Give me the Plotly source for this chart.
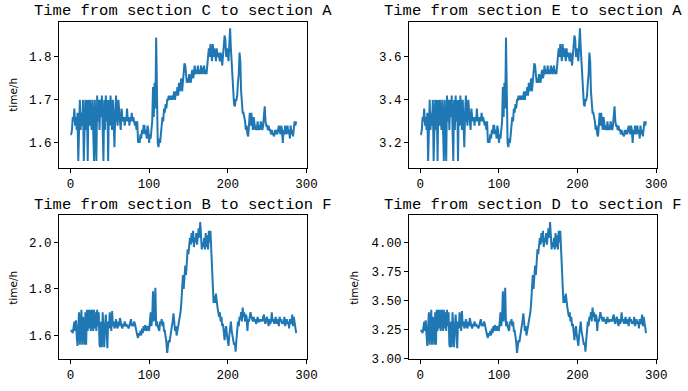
import plotly.graph_objects as go

# ---- data (5-minute intervals over one day, index 0..287) ----
c_to_a = [
    1.62, 1.62, 1.63, 1.66, 1.65, 1.68, 1.64, 1.66, 1.63, 1.67,
    1.558, 1.65, 1.70, 1.63, 1.67, 1.64, 1.70, 1.558, 1.66, 1.70,
    1.63, 1.70, 1.558, 1.70, 1.64, 1.70, 1.66, 1.63, 1.70, 1.64,
    1.558, 1.70, 1.63, 1.558, 1.71, 1.65, 1.70, 1.63, 1.70, 1.66,
    1.71, 1.64, 1.558, 1.70, 1.63, 1.71, 1.65, 1.70, 1.558, 1.70,
    1.64, 1.71, 1.66, 1.63, 1.70, 1.64, 1.59, 1.67, 1.71, 1.66,
    1.64, 1.70, 1.66, 1.65, 1.63, 1.68, 1.66, 1.65, 1.66, 1.64,
    1.66, 1.65, 1.68, 1.65, 1.66, 1.64, 1.66, 1.65, 1.67, 1.65,
    1.66, 1.65, 1.64, 1.65, 1.63, 1.65, 1.60, 1.61, 1.60, 1.62,
    1.61, 1.63, 1.62, 1.64, 1.64, 1.62, 1.63, 1.61, 1.64, 1.63,
    1.60, 1.62, 1.61, 1.63, 1.65, 1.73, 1.66, 1.74, 1.68, 1.845,
    1.66, 1.60, 1.59, 1.61, 1.60, 1.63, 1.64, 1.66, 1.65, 1.68,
    1.67, 1.69, 1.68, 1.70, 1.70, 1.71, 1.70, 1.71, 1.70, 1.71,
    1.70, 1.71, 1.72, 1.70, 1.72, 1.71, 1.73, 1.71, 1.74, 1.72,
    1.74, 1.75, 1.72, 1.74, 1.76, 1.785, 1.78, 1.76, 1.74, 1.75,
    1.74, 1.76, 1.75, 1.74, 1.76, 1.77, 1.75, 1.76, 1.78, 1.76,
    1.77, 1.76, 1.78, 1.76, 1.77, 1.76, 1.78, 1.77, 1.76, 1.77,
    1.78, 1.76, 1.77, 1.76, 1.78, 1.80, 1.82, 1.80, 1.83, 1.81,
    1.79, 1.83, 1.80, 1.82, 1.81, 1.79, 1.82, 1.80, 1.81, 1.80,
    1.79, 1.81, 1.80, 1.78, 1.80, 1.83, 1.85, 1.84, 1.80, 1.82,
    1.80, 1.79, 1.83, 1.867, 1.82, 1.78, 1.76, 1.72, 1.69, 1.685,
    1.70, 1.70, 1.71, 1.74, 1.76, 1.81, 1.79, 1.72, 1.68, 1.67,
    1.67, 1.66, 1.65, 1.63, 1.64, 1.62, 1.615, 1.64, 1.67, 1.64,
    1.67, 1.65, 1.63, 1.66, 1.64, 1.63, 1.64, 1.63, 1.65, 1.63,
    1.64, 1.63, 1.65, 1.64, 1.63, 1.64, 1.66, 1.685, 1.65, 1.64,
    1.64, 1.63, 1.64, 1.63, 1.63, 1.62, 1.63, 1.62, 1.62, 1.615,
    1.63, 1.62, 1.63, 1.62, 1.63, 1.64, 1.63, 1.62, 1.64, 1.63,
    1.60, 1.63, 1.62, 1.64, 1.62, 1.63, 1.64, 1.62, 1.63, 1.61,
    1.64, 1.62, 1.63, 1.615, 1.64, 1.65, 1.64, 1.65,
]

e_to_a = [
    3.24, 3.24, 3.26, 3.32, 3.30, 3.36, 3.28, 3.32, 3.26, 3.34,
    3.116, 3.30, 3.40, 3.26, 3.34, 3.28, 3.40, 3.116, 3.32, 3.40,
    3.26, 3.40, 3.116, 3.40, 3.28, 3.40, 3.32, 3.26, 3.40, 3.28,
    3.116, 3.40, 3.26, 3.116, 3.42, 3.30, 3.40, 3.26, 3.40, 3.32,
    3.42, 3.28, 3.116, 3.40, 3.26, 3.42, 3.30, 3.40, 3.116, 3.40,
    3.28, 3.42, 3.32, 3.26, 3.40, 3.28, 3.18, 3.34, 3.42, 3.32,
    3.28, 3.40, 3.32, 3.30, 3.26, 3.36, 3.32, 3.30, 3.32, 3.28,
    3.32, 3.30, 3.36, 3.30, 3.32, 3.28, 3.32, 3.30, 3.34, 3.30,
    3.32, 3.30, 3.28, 3.30, 3.26, 3.30, 3.20, 3.22, 3.20, 3.24,
    3.22, 3.26, 3.24, 3.28, 3.28, 3.24, 3.26, 3.22, 3.28, 3.26,
    3.20, 3.24, 3.22, 3.26, 3.30, 3.46, 3.32, 3.48, 3.36, 3.69,
    3.32, 3.20, 3.18, 3.22, 3.20, 3.26, 3.28, 3.32, 3.30, 3.36,
    3.34, 3.38, 3.36, 3.40, 3.40, 3.42, 3.40, 3.42, 3.40, 3.42,
    3.40, 3.42, 3.44, 3.40, 3.44, 3.42, 3.46, 3.42, 3.48, 3.44,
    3.48, 3.50, 3.44, 3.48, 3.52, 3.57, 3.56, 3.52, 3.48, 3.50,
    3.48, 3.52, 3.50, 3.48, 3.52, 3.54, 3.50, 3.52, 3.56, 3.52,
    3.54, 3.52, 3.56, 3.52, 3.54, 3.52, 3.56, 3.54, 3.52, 3.54,
    3.56, 3.52, 3.54, 3.52, 3.56, 3.60, 3.64, 3.60, 3.66, 3.62,
    3.58, 3.66, 3.60, 3.64, 3.62, 3.58, 3.64, 3.60, 3.62, 3.60,
    3.58, 3.62, 3.60, 3.56, 3.60, 3.66, 3.70, 3.68, 3.60, 3.64,
    3.60, 3.58, 3.66, 3.734, 3.64, 3.56, 3.52, 3.44, 3.38, 3.37,
    3.40, 3.40, 3.42, 3.48, 3.52, 3.62, 3.58, 3.44, 3.36, 3.34,
    3.34, 3.32, 3.30, 3.26, 3.28, 3.24, 3.23, 3.28, 3.34, 3.28,
    3.34, 3.30, 3.26, 3.32, 3.28, 3.26, 3.28, 3.26, 3.30, 3.26,
    3.28, 3.26, 3.30, 3.28, 3.26, 3.28, 3.32, 3.37, 3.30, 3.28,
    3.28, 3.26, 3.28, 3.26, 3.26, 3.24, 3.26, 3.24, 3.24, 3.23,
    3.26, 3.24, 3.26, 3.24, 3.26, 3.28, 3.26, 3.24, 3.28, 3.26,
    3.20, 3.26, 3.24, 3.28, 3.24, 3.26, 3.28, 3.24, 3.26, 3.22,
    3.28, 3.24, 3.26, 3.23, 3.28, 3.30, 3.28, 3.30,
]

b_to_f = [
    1.62, 1.62, 1.62, 1.61, 1.63, 1.66, 1.62, 1.665, 1.60, 1.555,
    1.64, 1.70, 1.56, 1.66, 1.71, 1.56, 1.68, 1.62, 1.56, 1.70,
    1.56, 1.71, 1.62, 1.71, 1.63, 1.71, 1.62, 1.70, 1.71, 1.62,
    1.71, 1.63, 1.70, 1.62, 1.71, 1.64, 1.70, 1.56, 1.55, 1.66,
    1.55, 1.70, 1.60, 1.55, 1.64, 1.69, 1.62, 1.545, 1.66, 1.63,
    1.70, 1.64, 1.62, 1.705, 1.64, 1.66, 1.63, 1.64, 1.67, 1.64,
    1.63, 1.66, 1.64, 1.675, 1.65, 1.64, 1.63, 1.65, 1.64, 1.66,
    1.64, 1.65, 1.64, 1.64, 1.63, 1.64, 1.65, 1.67, 1.64, 1.65,
    1.64, 1.66, 1.65, 1.63, 1.62, 1.60, 1.59, 1.61, 1.60, 1.62,
    1.60, 1.63, 1.61, 1.64, 1.62, 1.645, 1.63, 1.62, 1.64, 1.63,
    1.62, 1.66, 1.70, 1.64, 1.68, 1.79, 1.66, 1.70, 1.805, 1.64,
    1.66, 1.64, 1.63, 1.62, 1.66, 1.65, 1.67, 1.64, 1.66, 1.62,
    1.62, 1.60, 1.57, 1.525, 1.55, 1.58, 1.57, 1.60, 1.62, 1.64,
    1.66, 1.695, 1.66, 1.62, 1.64, 1.60, 1.62, 1.65, 1.66, 1.68,
    1.70, 1.74, 1.80, 1.86, 1.80, 1.87, 1.90, 1.86, 1.92, 1.97,
    1.95, 2.00, 2.02, 1.99, 2.04, 2.00, 2.05, 1.98, 2.02, 2.00,
    2.04, 1.99, 2.03, 2.06, 2.02, 2.0875, 2.03, 1.97, 2.00, 1.98,
    2.02, 1.97, 2.04, 1.98, 2.03, 1.97, 2.05, 2.00, 2.05, 1.95,
    1.86, 1.78, 1.74, 1.77, 1.74, 1.78, 1.73, 1.72, 1.70, 1.68,
    1.70, 1.66, 1.68, 1.64, 1.65, 1.60, 1.58, 1.62, 1.64, 1.60,
    1.58, 1.555, 1.60, 1.63, 1.66, 1.62, 1.60, 1.58, 1.56, 1.57,
    1.53, 1.58, 1.62, 1.66, 1.64, 1.68, 1.67, 1.70, 1.66, 1.72,
    1.68, 1.70, 1.66, 1.69, 1.68, 1.62, 1.67, 1.66, 1.68, 1.70,
    1.68, 1.67, 1.66, 1.68, 1.66, 1.67, 1.65, 1.66, 1.68, 1.66,
    1.66, 1.67, 1.66, 1.67, 1.66, 1.68, 1.69, 1.66, 1.65, 1.67,
    1.68, 1.66, 1.64, 1.67, 1.65, 1.66, 1.70, 1.66, 1.67, 1.65,
    1.66, 1.68, 1.65, 1.67, 1.66, 1.64, 1.68, 1.66, 1.67, 1.65,
    1.66, 1.65, 1.68, 1.64, 1.66, 1.67, 1.65, 1.66, 1.63, 1.67,
    1.65, 1.66, 1.69, 1.64, 1.68, 1.66, 1.64, 1.61,
]

d_to_f = [
    3.24, 3.24, 3.24, 3.22, 3.26, 3.32, 3.24, 3.33, 3.20, 3.11,
    3.28, 3.40, 3.12, 3.32, 3.42, 3.12, 3.36, 3.24, 3.12, 3.40,
    3.12, 3.42, 3.24, 3.42, 3.26, 3.42, 3.24, 3.40, 3.42, 3.24,
    3.42, 3.26, 3.40, 3.24, 3.42, 3.28, 3.40, 3.12, 3.10, 3.32,
    3.10, 3.40, 3.20, 3.10, 3.28, 3.38, 3.24, 3.09, 3.32, 3.26,
    3.40, 3.28, 3.24, 3.41, 3.28, 3.32, 3.26, 3.28, 3.34, 3.28,
    3.26, 3.32, 3.28, 3.35, 3.30, 3.28, 3.26, 3.30, 3.28, 3.32,
    3.28, 3.30, 3.28, 3.28, 3.26, 3.28, 3.30, 3.34, 3.28, 3.30,
    3.28, 3.32, 3.30, 3.26, 3.24, 3.20, 3.18, 3.22, 3.20, 3.24,
    3.20, 3.26, 3.22, 3.28, 3.24, 3.29, 3.26, 3.24, 3.28, 3.26,
    3.24, 3.32, 3.40, 3.28, 3.36, 3.58, 3.32, 3.40, 3.61, 3.28,
    3.32, 3.28, 3.26, 3.24, 3.32, 3.30, 3.34, 3.28, 3.32, 3.24,
    3.24, 3.20, 3.14, 3.05, 3.10, 3.16, 3.14, 3.20, 3.24, 3.28,
    3.32, 3.39, 3.32, 3.24, 3.28, 3.20, 3.24, 3.30, 3.32, 3.36,
    3.40, 3.48, 3.60, 3.72, 3.60, 3.74, 3.80, 3.72, 3.84, 3.94,
    3.90, 4.00, 4.04, 3.98, 4.08, 4.00, 4.10, 3.96, 4.04, 4.00,
    4.08, 3.98, 4.06, 4.12, 4.04, 4.175, 4.06, 3.94, 4.00, 3.96,
    4.04, 3.94, 4.08, 3.96, 4.06, 3.94, 4.10, 4.00, 4.10, 3.90,
    3.72, 3.56, 3.48, 3.54, 3.48, 3.56, 3.46, 3.44, 3.40, 3.36,
    3.40, 3.32, 3.36, 3.28, 3.30, 3.20, 3.16, 3.24, 3.28, 3.20,
    3.16, 3.11, 3.20, 3.26, 3.32, 3.24, 3.20, 3.16, 3.12, 3.14,
    3.06, 3.16, 3.24, 3.32, 3.28, 3.36, 3.34, 3.40, 3.32, 3.44,
    3.36, 3.40, 3.32, 3.38, 3.36, 3.24, 3.34, 3.32, 3.36, 3.40,
    3.36, 3.34, 3.32, 3.36, 3.32, 3.34, 3.30, 3.32, 3.36, 3.32,
    3.32, 3.34, 3.32, 3.34, 3.32, 3.36, 3.38, 3.32, 3.30, 3.34,
    3.36, 3.32, 3.28, 3.34, 3.30, 3.32, 3.40, 3.32, 3.34, 3.30,
    3.32, 3.36, 3.30, 3.34, 3.32, 3.28, 3.36, 3.32, 3.34, 3.30,
    3.32, 3.30, 3.36, 3.28, 3.32, 3.34, 3.30, 3.32, 3.26, 3.34,
    3.30, 3.32, 3.38, 3.28, 3.36, 3.32, 3.28, 3.22,
]

titles = [
    "Time from section C to section A",
    "Time from section E to section A",
    "Time from section B to section F",
    "Time from section D to section F",
]
x_ticks = [0, 100, 200, 300]
y_ticks = [
    [1.6, 1.7, 1.8],
    [3.2, 3.4, 3.6],
    [1.6, 1.8, 2.0],
    [3.00, 3.25, 3.50, 3.75, 4.00],
]
y_formats = [".1f", ".1f", ".1f", ".2f"]
y_label = "time/h"
series = [c_to_a, e_to_a, b_to_f, d_to_f]

# ---- layout geometry ----
W, H = 688, 391
boxes = [  # left, right, top, bottom in pixels
    (60, 312, 22, 171),
    (415, 667, 22, 171),
    (60, 312, 220, 367),
    (415, 667, 220, 367),
]
ylabel_pos = [(13, 97), None, (13, 294), (359, 294)]

MONO = "Liberation Mono, DejaVu Sans Mono, monospace"
LINE = "#1f77b4"

fig = go.Figure()
annotations = []
for k, ys in enumerate(series):
    xs = list(range(len(ys)))
    ax = "" if k == 0 else str(k + 1)
    fig.add_trace(go.Scatter(
        x=xs, y=ys, mode="lines",
        line=dict(color=LINE, width=2),
        xaxis="x" + ax, yaxis="y" + ax, showlegend=False,
        hoverinfo="skip",
    ))
    l, r, t, b = boxes[k]
    ymin, ymax = min(ys), max(ys)
    pad = (ymax - ymin) * 0.05
    xpad = (len(ys) - 1) * 0.05
    common = dict(
        showline=True, linecolor="black", linewidth=1, mirror=True,
        ticks="outside", ticklen=4, tickwidth=1, tickcolor="black",
        showgrid=False, zeroline=False,
        tickfont=dict(family=MONO, size=12.5, color="black"),
    )
    fig.update_layout(**{
        "xaxis" + ax: dict(
            domain=[l / W, r / W], anchor="y" + ax,
            range=[-xpad, len(ys) - 1 + xpad],
            tickvals=x_ticks, **common),
        "yaxis" + ax: dict(
            domain=[1 - b / H, 1 - t / H], anchor="x" + ax,
            range=[ymin - pad, ymax + pad],
            tickvals=y_ticks[k], tickformat=y_formats[k], **common),
    })
    annotations.append(dict(
        text=titles[k], xref="paper", yref="paper",
        x=(l + r) / 2 / W, y=1 - (t - 11) / H,
        xanchor="center", yanchor="middle", showarrow=False,
        font=dict(family=MONO, size=15.5, color="black"),
    ))
    if ylabel_pos[k] is not None:
        px, py = ylabel_pos[k]
        annotations.append(dict(
            text=y_label, xref="paper", yref="paper",
            x=px / W, y=1 - py / H, xanchor="center", yanchor="middle",
            textangle=-90, showarrow=False,
            font=dict(family="DejaVu Sans, sans-serif", size=10.5, color="black"),
        ))

fig.update_layout(
    width=W, height=H, autosize=False,
    margin=dict(l=0, r=0, t=0, b=0),
    paper_bgcolor="white", plot_bgcolor="white",
    annotations=annotations,
)

fig.write_html("out.html")
